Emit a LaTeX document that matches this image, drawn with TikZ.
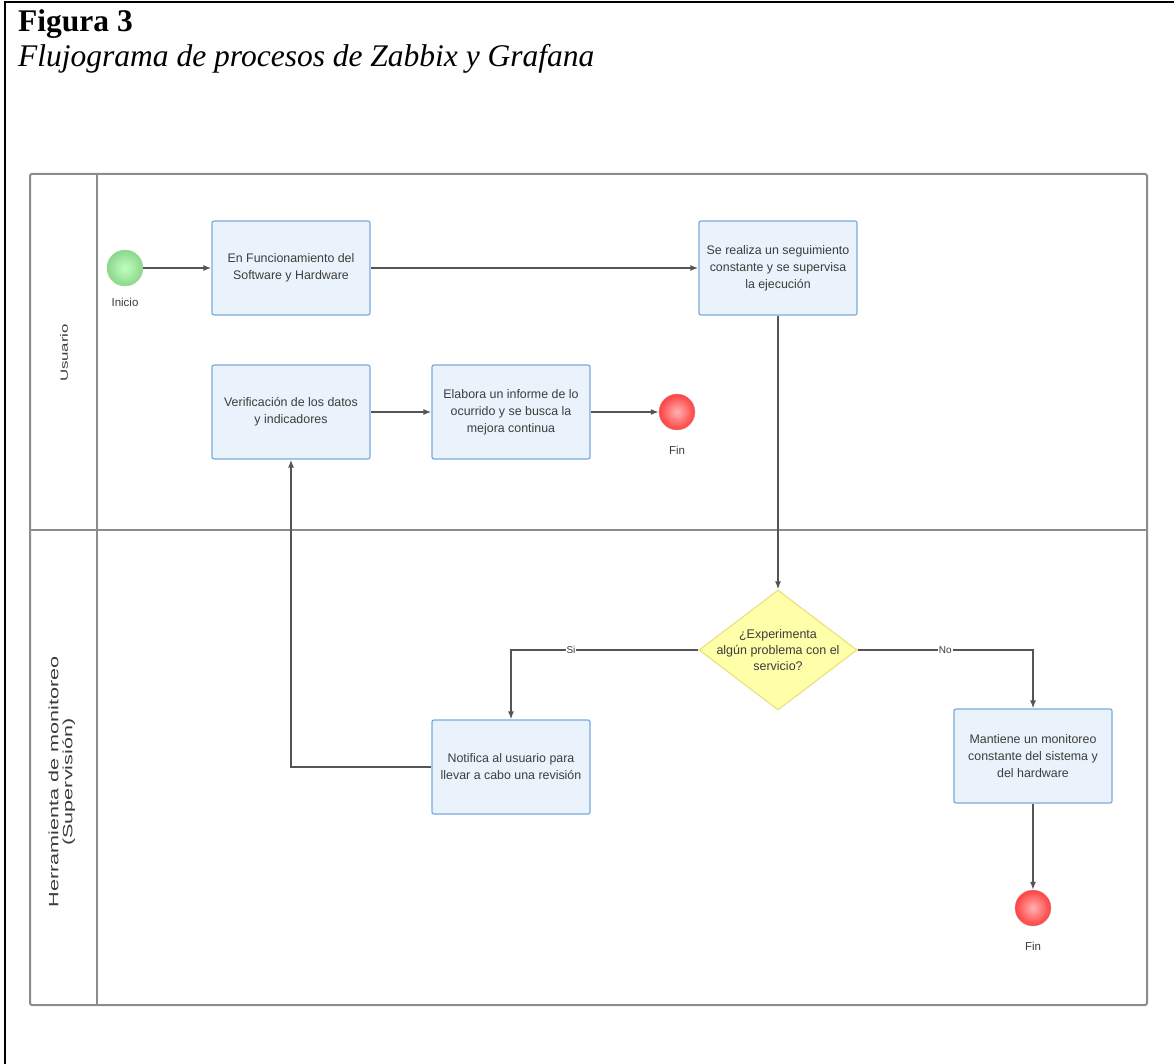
\documentclass[tikz,border=0pt]{standalone}
\usepackage{fontspec}
\setmainfont{Liberation Serif}
\newfontfamily\diagfont{Liberation Sans}
\newfontfamily\lanefont[FakeStretch=1.6]{Liberation Sans}
\usetikzlibrary{arrows.meta,shapes.geometric}

\definecolor{boxfill}{RGB}{234,243,252}
\definecolor{boxline}{RGB}{122,170,220}
\definecolor{laneline}{RGB}{140,140,140}
\definecolor{flowline}{RGB}{85,85,85}
\definecolor{txtgray}{RGB}{60,60,60}
\definecolor{decfill}{RGB}{255,255,170}
\definecolor{decline}{RGB}{232,226,130}

\tikzset{
  proc/.style={draw=boxline, fill=boxfill, line width=1.2, rounded corners=2,
    minimum width=158, minimum height=94, align=center,
    font=\diagfont\fontsize{12.4}{17}\selectfont, text=txtgray},
  startev/.style={circle, minimum size=36, inner sep=0, draw=green!60!black!40,
    inner color=green!25, outer color=green!65!black!45!white},
  endev/.style={circle, minimum size=36, inner sep=0, draw=red!60!black!40,
    inner color=red!30!white, outer color=red!75!white},
  evlabel/.style={font=\diagfont\fontsize{11.5}{14}\selectfont, text=txtgray},
  flow/.style={draw=flowline, line width=1.4, -{Latex[length=8,width=6]}},
  lanetxt/.style={text=txtgray, align=center},
}

\begin{document}
\begin{tikzpicture}[x=1pt,y=1pt,yscale=-1,xscale=1]
\useasboundingbox (0,0) rectangle (1174,1064);

%Frame
\draw [line width=2.5] (5,1064) -- (5,2) -- (1174,2);
\node [anchor=base west, inner sep=0, font=\bfseries\fontsize{31.5}{34}\selectfont] (fig) at (18,32) {Figura 3};
\node [anchor=base west, inner sep=0, font=\itshape\fontsize{31.5}{34}\selectfont] (title) at (18,67) {Flujograma de procesos de Zabbix y Grafana};

%Shape: Pool and lanes
\draw [laneline, line width=2, rounded corners=2] (30,174) rectangle (1147,1005);
\draw [laneline, line width=2] (97,174) -- (97,1005);
\draw [laneline, line width=2] (30,530) -- (1147,530);
\node [lanetxt, rotate=90, font=\lanefont\fontsize{10.5}{13}\selectfont] (laneusr) at (64,353) {Usuario};
\node [lanetxt, rotate=90, font=\lanefont\fontsize{13.5}{14}\selectfont] (lanemon) at (62,782) {Herramienta de monitoreo\\(Supervisión)};

%Shape: Events
\node [startev, label={[evlabel, label distance=8]below:Inicio}] (inicio) at (125,268) {};
\node [endev, label={[evlabel, label distance=12]below:Fin}] (fin1) at (677,412) {};
\node [endev, label={[evlabel, label distance=12]below:Fin}] (fin2) at (1033,908) {};

%Shape: Tasks
\node [proc] (func) at (291,268) {En Funcionamiento del\\Software y Hardware};
\node [proc] (segui) at (778,268) {Se realiza un seguimiento\\constante y se supervisa\\la ejecución};
\node [proc] (verif) at (291,412) {Verificación de los datos\\y indicadores};
\node [proc] (infor) at (511,412) {Elabora un informe de lo\\ocurrido y se busca la\\mejora continua};
\node [proc] (notif) at (511,767) {Notifica al usuario para\\llevar a cabo una revisión};
\node [proc] (mant) at (1033,756) {Mantiene un monitoreo\\constante del sistema y\\del hardware};

%Shape: Decision
\node [diamond, draw=decline, fill=decfill, line width=1.2, minimum width=158, minimum height=120, inner sep=0] (dec) at (778,650) {};
\node [font=\diagfont\fontsize{12.5}{16}\selectfont, text=txtgray, align=center] (dectxt) at (dec) {¿Experimenta\\algún problema con el\\servicio?};

%Straight Lines
\draw [flow] (inicio) -- (func);
\draw [flow] (func) -- (segui);
\draw [flow] (segui) -- (dec.north);
\draw [flow] (verif) -- (infor);
\draw [flow] (infor) -- (fin1);
\draw [flow] (dec.west) -| (notif.north) node [pos=0.34, fill=white, inner sep=1, evlabel, font=\diagfont\fontsize{10}{12}\selectfont] {Si};
\draw [flow] (dec.east) -| (mant.north) node [pos=0.25, fill=white, inner sep=1, evlabel, font=\diagfont\fontsize{10}{12}\selectfont] {No};
\draw [flow] (notif.west) -| (verif.south);
\draw [flow] (mant) -- (fin2);

\end{tikzpicture}
\end{document}
